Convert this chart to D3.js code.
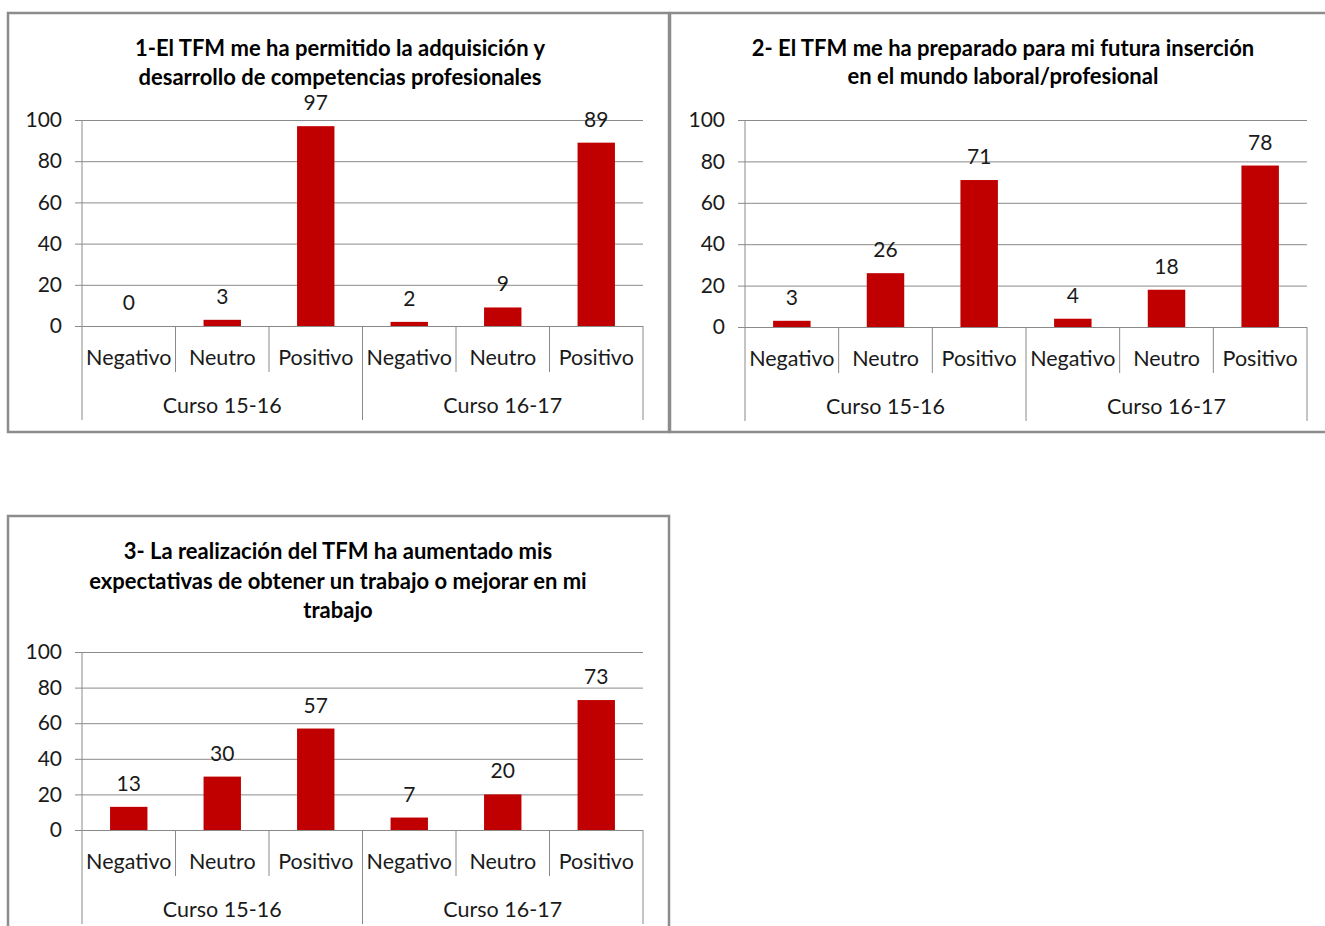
<!DOCTYPE html>
<html>
<head>
<meta charset="utf-8">
<script src="https://cdn.jsdelivr.net/npm/d3@7"></script>
<style>
  body { margin: 0; background: #fff; }
  text { font-family: Lato, "Open Sans", sans-serif; }
</style>
</head>
<body>
<div id="chart-container"></div>
<script>
// Data
const categories = ["Negativo", "Neutro", "Positivo"];
const courses = ["Curso 15-16", "Curso 16-17"];
const yTicks = [0, 20, 40, 60, 80, 100];

const title1 = ["1-El TFM me ha permitido la adquisición y", "desarrollo de competencias profesionales"];
const title2 = ["2- El TFM me ha preparado para mi futura inserción", "en el mundo laboral/profesional"];
const title3 = ["3- La realización del TFM ha aumentado mis", "expectativas de obtener un trabajo o mejorar en mi", "trabajo"];

const values1 = [0, 3, 97, 2, 9, 89];
const values2 = [3, 26, 71, 4, 18, 78];
const values3 = [13, 30, 57, 7, 20, 73];

const W = 1325, H = 926;
const barColor = "#C00000";
const gridColor = "#8a8a8a";
const textColor = "#1a1a1a";

const svg = d3.select("#chart-container")
  .append("svg")
  .attr("width", W)
  .attr("height", H);

// panel layouts (positions only)
const panels = [
  { title: title1, values: values1, box: [8, 13, 661, 419], left: 82, right: 643, top: 120, bottom: 326, titleY: [47, 76], titleX: 340 },
  { title: title2, values: values2, box: [670, 13, 665, 419], left: 745, right: 1307, top: 120, bottom: 327, titleY: [47, 75], titleX: 1003 },
  { title: title3, values: values3, box: [8, 516, 661, 440], left: 82, right: 643, top: 652, bottom: 830, titleY: [550, 580, 609], titleX: 338 }
];

panels.forEach(p => {
  const g = svg.append("g");

  // rows of the two-level axis
  const rows = [];
  courses.forEach(c => categories.forEach(k => rows.push({ course: c, cat: k })));
  rows.forEach((r, i) => { r.value = p.values[i]; r.key = i; });

  const x = d3.scaleBand()
    .domain(rows.map(r => r.key))
    .range([p.left, p.right])
    .paddingInner(0.6)
    .paddingOuter(0.3);

  const y = d3.scaleLinear()
    .domain([0, 100])
    .range([p.bottom, p.top]);

  // gridlines + y axis
  const yAxis = g.append("g")
    .attr("transform", `translate(${p.left},0)`)
    .call(d3.axisLeft(y).tickValues(yTicks).tickSize(-(p.right - p.left)).tickSizeOuter(0).tickPadding(20))
  yAxis.select(".domain").remove();
  yAxis.selectAll(".tick line").attr("stroke", gridColor).attr("x1", -7);
  yAxis.selectAll(".tick text")
    .attr("fill", textColor)
    .style("font-size", "21px");

  // vertical axis line
  g.append("line")
    .attr("x1", p.left).attr("x2", p.left)
    .attr("y1", p.top).attr("y2", p.bottom + 94)
    .attr("stroke", gridColor);

  // bars
  g.selectAll(".bar")
    .data(rows)
    .enter().append("rect")
    .attr("class", "bar")
    .attr("x", d => x(d.key))
    .attr("y", d => y(d.value))
    .attr("width", x.bandwidth())
    .attr("height", d => y(0) - y(d.value))
    .attr("fill", barColor);

  // value labels
  g.selectAll(".label")
    .data(rows)
    .enter().append("text")
    .attr("class", "label")
    .attr("x", d => x(d.key) + x.bandwidth() / 2)
    .attr("y", d => y(d.value) - 16)
    .attr("text-anchor", "middle")
    .attr("fill", textColor)
    .style("font-size", "21px")
    .text(d => d.value);

  // category separators
  const step = x.step();
  d3.range(1, rows.length + 1).forEach(i => {
    const xx = p.left + i * step;
    const isGroup = i % categories.length === 0;
    g.append("line")
      .attr("x1", xx).attr("x2", xx)
      .attr("y1", p.bottom).attr("y2", p.bottom + (isGroup ? 94 : 46))
      .attr("stroke", gridColor);
  });

  // category labels
  g.selectAll(".cat")
    .data(rows)
    .enter().append("text")
    .attr("class", "cat")
    .attr("x", d => x(d.key) + x.bandwidth() / 2)
    .attr("y", p.bottom + 31)
    .attr("dominant-baseline", "central")
    .attr("text-anchor", "middle")
    .attr("fill", textColor)
    .style("font-size", "21.5px")
    .text(d => d.cat);

  // course labels
  g.selectAll(".course")
    .data(courses)
    .enter().append("text")
    .attr("class", "course")
    .attr("x", (d, i) => p.left + (i * categories.length + categories.length / 2) * step)
    .attr("y", p.bottom + 79)
    .attr("dominant-baseline", "central")
    .attr("text-anchor", "middle")
    .attr("fill", textColor)
    .style("font-size", "21.5px")
    .text(d => d);

  // title
  g.selectAll(".title")
    .data(p.title)
    .enter().append("text")
    .attr("class", "title")
    .attr("x", p.titleX)
    .attr("y", (d, i) => p.titleY[i])
    .attr("dominant-baseline", "central")
    .attr("text-anchor", "middle")
    .attr("fill", "#000")
    .style("font-size", "22px")
    .style("font-weight", "bold")
    .text(d => d);

  // chart frame
  g.append("rect")
    .attr("x", p.box[0]).attr("y", p.box[1])
    .attr("width", p.box[2]).attr("height", p.box[3])
    .attr("fill", "none")
    .attr("stroke", "#8c8c8c")
    .attr("stroke-width", 2.5);
});
</script>
</body>
</html>
